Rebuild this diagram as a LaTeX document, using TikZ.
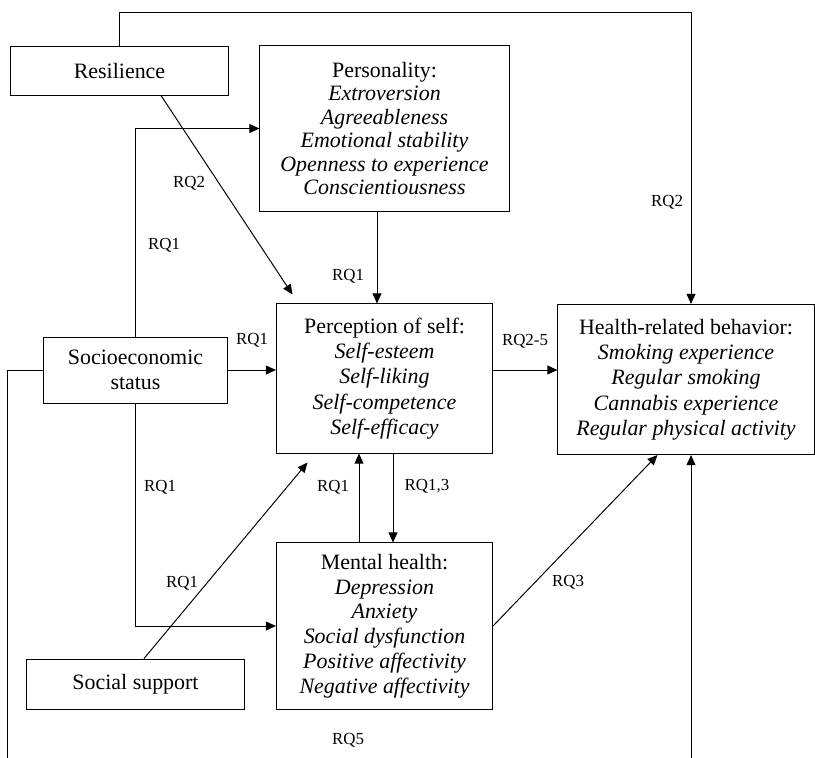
\documentclass[tikz,border=0pt]{standalone}
\usepackage{fontspec}
\setmainfont{Liberation Serif}
\usetikzlibrary{positioning,calc,arrows.meta}
\tikzset{
  blok/.style={draw, line width=0.7pt, align=center, inner sep=2pt, font=\fontsize{15.6}{17.6}\selectfont},
  rq/.style={inner sep=0pt, font=\fontsize{12}{14}\selectfont},
  arr/.style={-{Triangle[length=0.25cm,width=0.22cm]}, line width=0.7pt},
}
\begin{document}
\begin{tikzpicture}[x=0.025cm, y=-0.025cm]
  \useasboundingbox (0,0) rectangle (815,757);
  % boxes
  \node[blok, minimum width=5.425cm, minimum height=1.225cm] (res) at (119.5,70.5) {Resilience};
  \node[blok, minimum width=6.225cm, minimum height=4.125cm, font=\fontsize{15.6}{16.6}\selectfont] (pers) at (384.5,128.5)
    {Personality:\\ \textit{Extroversion}\\ \textit{Agreeableness}\\ \textit{Emotional stability}\\ \textit{Openness to experience}\\ \textit{Conscientiousness}};
  \node[blok, minimum width=4.575cm, minimum height=1.65cm, font=\fontsize{15.6}{18.2}\selectfont] (ses) at (135.5,370) {Socioeconomic\\status};
  \node[blok, minimum width=5.4cm, minimum height=3.725cm, font=\fontsize{15.6}{18}\selectfont] (perc) at (384.5,378.5)
    {Perception of self:\\ \textit{Self-esteem}\\ \textit{Self-liking}\\ \textit{Self-competence}\\ \textit{Self-efficacy}};
  \node[blok, minimum width=6.4cm, minimum height=3.75cm, font=\fontsize{15.6}{18}\selectfont] (hrb) at (686,379.5)
    {Health-related behavior:\\ \textit{Smoking experience}\\ \textit{Regular smoking}\\ \textit{Cannabis experience}\\ \textit{Regular physical activity}};
  \node[blok, minimum width=5.4cm, minimum height=4.15cm] (ment) at (384.5,626)
    {Mental health:\\ \textit{Depression}\\ \textit{Anxiety}\\ \textit{Social dysfunction}\\ \textit{Positive affectivity}\\ \textit{Negative affectivity}};
  \node[blok, minimum width=5.425cm, minimum height=1.25cm] (soc) at (135.5,684) {Social support};

  % corners of the long connectors
  \coordinate (topR) at (691,12);
  \coordinate (lowL) at (7,770);
  \coordinate (lowR) at (691,770);

  % connectors
  \draw[arr] (res.north) |- (topR) -- (topR |- hrb.north);
  \draw[arr] ($(res.south)+(41.5,0)$) -- ($(perc.north west)+(16.5,-9)$);
  \draw[arr] (ses.north) |- (pers.west);
  \draw[arr] ($(pers.south)+(-7.5,0)$) -- ($(perc.north)+(-7.5,0)$);
  \draw[arr] (ses.east) -- (perc.west |- ses.east);
  \draw[arr] (perc.east |- ses.east) -- (hrb.west |- ses.east);
  \draw[arr] (ses.south) |- (ment.west);
  \draw[arr] ($(soc.north)+(8.5,0)$) -- ($(perc.south west)+(31.5,9)$);
  \draw[arr] ($(ment.north)+(-25.5,0)$) -- ($(perc.south)+(-25.5,0)$);
  \draw[arr] ($(perc.south)+(8.5,0)$) -- ($(ment.north)+(8.5,0)$);
  \draw[arr] (ment.east) -- ($(hrb.south west)+(100,0)$);
  \draw[arr] (ses.west) -| (lowL) -- (lowR) -- (lowR |- hrb.south);

  % labels
  \node[rq] (l1) at (189,183) {RQ2};
  \node[rq] (l2) at (164,245) {RQ1};
  \node[rq] (l3) at (348,276) {RQ1};
  \node[rq] (l4) at (667,202) {RQ2};
  \node[rq] (l5) at (252,340) {RQ1};
  \node[rq] (l6) at (525,341) {RQ2-5};
  \node[rq] (l7) at (160,487) {RQ1};
  \node[rq] (l8) at (333,487) {RQ1};
  \node[rq] (l9) at (427,486) {RQ1,3};
  \node[rq] (l10) at (182,583) {RQ1};
  \node[rq] (l11) at (568,582) {RQ3};
  \node[rq] (l12) at (348,740) {RQ5};
\end{tikzpicture}
\end{document}
